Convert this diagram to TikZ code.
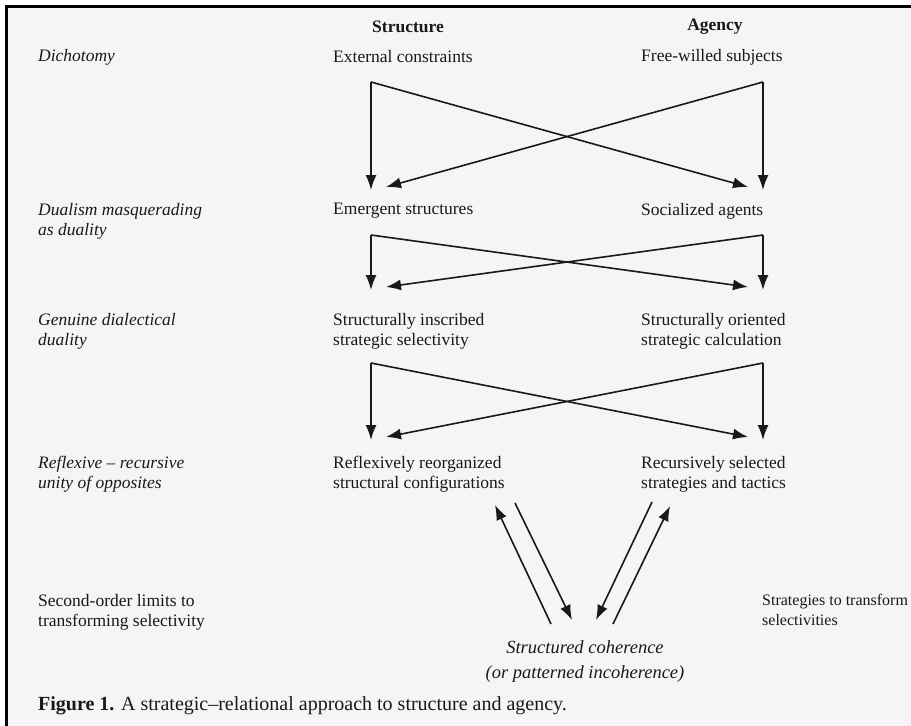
\documentclass[tikz,border=0pt]{standalone}
\usepackage{fontspec}
\setmainfont{Liberation Serif}
\usetikzlibrary{arrows.meta}
\definecolor{paper}{RGB}{246,244,247}
\definecolor{ink}{RGB}{25,25,25}
\tikzset{
  txt/.style={inner sep=0pt, text=ink, font=\fontsize{17.5}{20}\selectfont, align=left, anchor=west},
  ctxt/.style={inner sep=0pt, text=ink, font=\fontsize{17.5}{20}\selectfont, align=center, anchor=center},
  hdr/.style={inner sep=0pt, text=ink, font=\fontsize{17.5}{20}\selectfont\bfseries, anchor=center},
  lbl/.style={txt, font=\fontsize{17.5}{20}\selectfont\itshape},
  conn/.style={draw=ink, line width=1.6pt, -{Latex[length=15pt,width=11pt]}},
}
\begin{document}
\begin{tikzpicture}[x=1pt,y=-1pt]
\useasboundingbox (0,0) rectangle (911,726);
\fill[white] (0,0) rectangle (911,726);
\fill[paper] (5,5) rectangle (911,726);
\draw[black, line width=3pt] (6.5,726) -- (6.5,6.5) -- (911,6.5);

% headers
\node[hdr] (hs) at (408,27) {Structure};
\node[hdr] (ha) at (715,27) {Agency};

% row 1
\node[lbl] (l1) at (38,57) {Dichotomy};
\node[txt] (s1) at (333,57) {External constraints};
\node[txt] (a1) at (641,57) {Free-willed subjects};

% row 2
\node[lbl] (l2) at (38,221) {Dualism masquerading\\as duality};
\node[txt] (s2) at (333,211) {Emergent structures};
\node[txt] (a2) at (641,211) {Socialized agents};

% row 3
\node[lbl] (l3) at (38,331) {Genuine dialectical\\duality};
\node[txt] (s3) at (333,331) {Structurally inscribed\\strategic selectivity};
\node[txt] (a3) at (641,331) {Structurally oriented\\strategic calculation};

% row 4
\node[lbl] (l4) at (38,474) {Reflexive -- recursive\\unity of opposites};
\node[txt] (s4) at (333,474) {Reflexively reorganized\\structural configurations};
\node[txt] (a4) at (641,474) {Recursively selected\\strategies and tactics};

% row 5
\node[txt] (l5) at (38,612) {Second-order limits to\\transforming selectivity};
\node[txt, font=\fontsize{16}{20}\selectfont] (a5) at (762,610) {Strategies to transform\\selectivities};
\node[ctxt, font=\fontsize{18.5}{25}\selectfont\itshape] (sc) at (585,662) {Structured coherence\\(or patterned incoherence)};

% caption
\node[txt, font=\fontsize{20}{24}\selectfont] (cap) at (38,706) {\textbf{Figure 1.} A strategic--relational approach to structure and agency.};

% X connectors
\foreach \i/\t/\b in {1/82/190, 2/235/290, 3/363/440}{
  \coordinate (L\i) at (371,\t);
  \coordinate (R\i) at (763,\t);
  \coordinate (LB\i) at (371,\b);
  \coordinate (RB\i) at (763,\b);
  \coordinate (LD\i) at (386,\b-3);
  \coordinate (RD\i) at (748,\b-3);
  \draw[conn] (L\i) -- (LB\i);
  \draw[conn] (R\i) -- (RB\i);
  \draw[conn] (L\i) -- (RD\i);
  \draw[conn] (R\i) -- (LD\i);
}

% bottom arrows
\coordinate (p1) at (551,624);
\coordinate (p2) at (495,505);
\coordinate (p3) at (515,503);
\coordinate (p4) at (572,620);
\coordinate (q1) at (652,502);
\coordinate (q2) at (596,620);
\coordinate (q3) at (613,624);
\coordinate (q4) at (670,506);
\draw[conn] (p1) -- (p2);
\draw[conn] (p3) -- (p4);
\draw[conn] (q1) -- (q2);
\draw[conn] (q3) -- (q4);
\end{tikzpicture}
\end{document}
